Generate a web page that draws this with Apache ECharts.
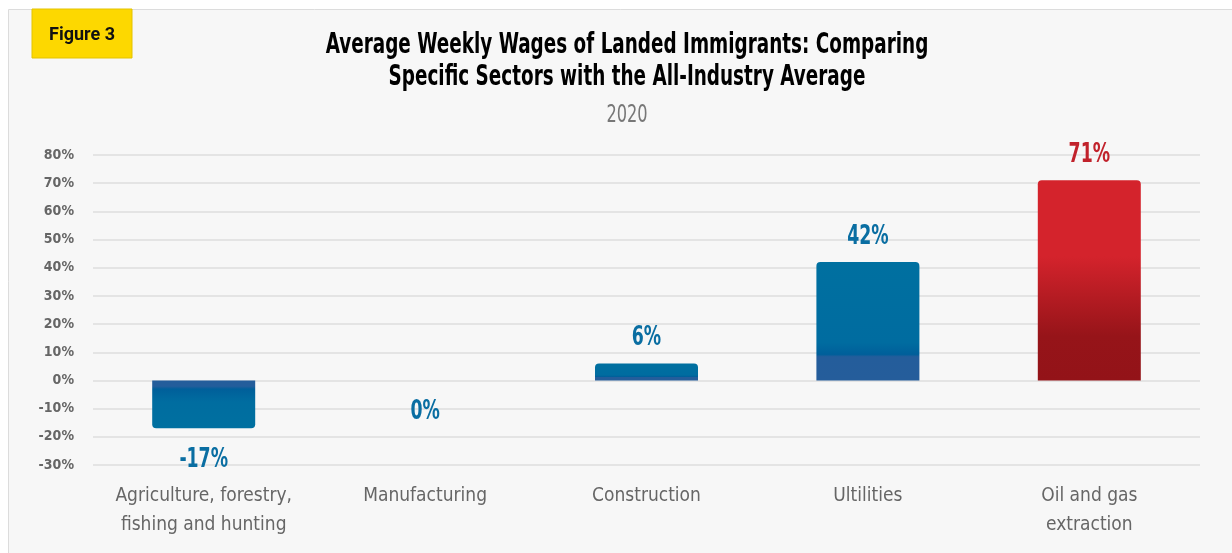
<!DOCTYPE html>
<html>
<head>
<meta charset="utf-8">
<script src="https://cdn.jsdelivr.net/npm/echarts@6/dist/echarts.min.js"></script>
<style>
  html, body { margin: 0; padding: 0; background: #ffffff; }
  #chart { width: 1232px; height: 553px; }
</style>
</head>
<body>
<div id="chart"></div>
<script>
// Sector categories and their wage gap versus the all-industry average (%)
const categories = [
  'Agriculture, forestry,\nfishing and hunting',
  'Manufacturing',
  'Construction',
  'Ultilities',
  'Oil and gas\nextraction'
];
const values = [-17, 0, 6, 42, 71];
const highlight = [false, false, false, false, true];

const titleLines = [
  'Average Weekly Wages of Landed Immigrants: Comparing',
  'Specific Sectors with the All-Industry Average'
];
const subtitle = '2020';
const figureLabel = 'Figure 3';

const CONDENSED = '"DejaVu Sans Condensed", "Liberation Sans Narrow", sans-serif';
const BLUE = '#0a6ea2';
const RED = '#c1222b';

function blueFill(negative) {
  const stops = negative
    ? [[0, '#245d9b'], [0.12, '#245d9b'], [0.18, '#005f9a'], [0.45, '#006da0'], [1, '#0070a0']]
    : [[0, '#0070a0'], [0.68, '#006ca0'], [0.78, '#005f9a'], [0.8, '#245d9b'], [1, '#255d9b']];
  return new echarts.graphic.LinearGradient(0, 0, 0, 1,
    stops.map(s => ({ offset: s[0], color: s[1] })));
}
function redFill() {
  return new echarts.graphic.LinearGradient(0, 0, 0, 1, [
    { offset: 0, color: '#d4232c' },
    { offset: 0.38, color: '#d4232c' },
    { offset: 0.78, color: '#961419' },
    { offset: 1, color: '#931318' }
  ]);
}

const barData = values.map((v, i) => ({
  value: v,
  itemStyle: {
    color: highlight[i] ? redFill() : blueFill(v < 0),
    borderRadius: v < 0 ? [0, 0, 4, 4] : [4, 4, 0, 0]
  }
}));

// value labels: condensed bold text placed at each bar's end through the axis scale
const labelData = values.map((v, i) => [i, v]);
function renderValueLabel(params, api) {
  const idx = api.value(0);
  const v = api.value(1);
  const pt = api.coord([idx, v]);
  const below = v <= 0;
  return {
    type: 'text',
    x: pt[0],
    y: below ? pt[1] + 32 : pt[1] - 25,
    scaleX: 0.74,
    style: {
      text: v + '%',
      font: 'bold 26px ' + CONDENSED,
      fill: highlight[idx] ? RED : BLUE,
      align: 'center',
      verticalAlign: 'middle'
    }
  };
}

const chart = echarts.init(document.getElementById('chart'), null, { renderer: 'canvas' });
chart.setOption({
  backgroundColor: 'transparent',
  animation: false,
  graphic: [
    {
      type: 'rect', z: -10, silent: true,
      shape: { x: 8.5, y: 9.5, width: 1240, height: 560 },
      style: { fill: '#f7f7f7', stroke: '#dcdcdc', lineWidth: 1 }
    },
    {
      type: 'rect', z: 5,
      shape: { x: 32, y: 9, width: 100, height: 49 },
      style: { fill: '#fdd800', stroke: '#e3c300', lineWidth: 1 }
    },
    {
      type: 'text', z: 6, x: 82, y: 35,
      style: {
        text: figureLabel, fill: '#111', font: 'bold 18px Roboto, Inter, sans-serif',
        align: 'center', verticalAlign: 'middle'
      }
    },
    {
      type: 'text', z: 6, x: 627, y: 45, scaleX: 0.705,
      style: {
        text: titleLines[0], fill: '#000', font: 'bold 29px ' + CONDENSED,
        align: 'center', verticalAlign: 'middle'
      }
    },
    {
      type: 'text', z: 6, x: 627, y: 77, scaleX: 0.705,
      style: {
        text: titleLines[1], fill: '#000', font: 'bold 29px ' + CONDENSED,
        align: 'center', verticalAlign: 'middle'
      }
    },
    {
      type: 'text', z: 6, x: 627, y: 116, scaleX: 0.75,
      style: {
        text: subtitle, fill: '#777', font: '24px ' + CONDENSED,
        align: 'center', verticalAlign: 'middle'
      }
    }
  ],
  grid: { left: 93, right: 32, top: 155, bottom: 88, containLabel: false },
  xAxis: {
    type: 'category',
    data: categories,
    axisLine: { show: false },
    axisTick: { show: false },
    axisLabel: {
      interval: 0, margin: 17, color: '#666',
      fontFamily: CONDENSED, fontSize: 19, lineHeight: 29
    }
  },
  yAxis: {
    type: 'value',
    min: -30, max: 80, interval: 10,
    axisLine: { show: false },
    axisTick: { show: false },
    axisLabel: {
      margin: 19, color: '#666', fontWeight: 'bold',
      fontFamily: CONDENSED, fontSize: 14,
      formatter: v => v + '%'
    },
    splitLine: { lineStyle: { color: '#dedede', width: 1.5 } }
  },
  series: [
    {
      type: 'bar',
      data: barData,
      barWidth: 103
    },
    {
      type: 'custom',
      data: labelData,
      renderItem: renderValueLabel,
      z: 10
    }
  ]
});
</script>
</body>
</html>
